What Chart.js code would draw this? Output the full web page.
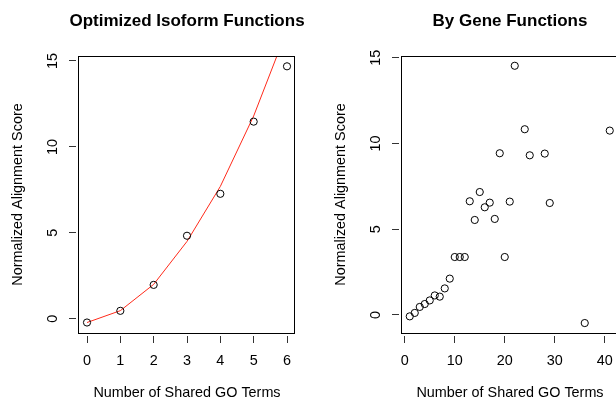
<!DOCTYPE html>
<html>
<head>
<meta charset="utf-8">
<script src="https://cdn.jsdelivr.net/npm/chart.js@4/dist/chart.umd.min.js"></script>
<style>
  html, body { margin: 0; padding: 0; background: #fff; overflow: hidden; }
  #wrap { position: relative; width: 616px; height: 402px; overflow: hidden; }
  canvas { position: absolute; top: 0; }
  #isoformChart { left: 0; }
  #geneChart { left: 323px; }
</style>
</head>
<body>
<div id="wrap">
  <canvas id="isoformChart" width="374" height="402"></canvas>
  <canvas id="geneChart" width="374" height="402"></canvas>
</div>
<script>
// Optimized isoform functions (left panel)
const isoformTerms = [0, 1, 2, 3, 4, 5, 6];
const isoformScores = [-0.22, 0.46, 1.97, 4.83, 7.27, 11.47, 14.69];
const isoformFit = [-0.22, 0.47, 2.0, 4.5, 7.7, 11.8, 16.8];
const isoformXTicks = [0, 1, 2, 3, 4, 5, 6];

// By gene functions (right panel)
const geneTerms = [1, 2, 3, 4, 5, 6, 7, 8, 9, 10, 11, 12, 13, 14, 15, 16, 17, 18, 19, 20, 21, 22, 24, 25, 28, 29, 36, 41];
const geneScores = [-0.08, 0.12, 0.47, 0.64, 0.85, 1.14, 1.07, 1.55, 2.12, 3.38, 3.38, 3.38, 6.63, 5.54, 7.17, 6.28, 6.55, 5.6, 9.43, 3.38, 6.61, 14.53, 10.83, 9.31, 9.41, 6.53, -0.47, 10.75];
const geneXTicks = [0, 10, 20, 30, 40];

const scoreTicks = [0, 5, 10, 15];

Chart.defaults.font.family = "'Liberation Sans', Arial, Helvetica, sans-serif";
Chart.defaults.font.size = 14.4;
Chart.defaults.color = '#000';

// R style box round the plot region
const boxPlugin = {
    id: 'rBox',
    afterDatasetsDraw(chart) {
        const { ctx, chartArea } = chart;
        const l = Math.round(chartArea.left) - 0.5;
        const t = Math.round(chartArea.top) + 0.5;
        const r = Math.round(chartArea.right) - 0.5;
        const b = Math.round(chartArea.bottom) + 0.5;
        ctx.save();
        ctx.strokeStyle = '#000';
        ctx.lineWidth = 1;
        ctx.strokeRect(l, t, r - l, b - t);
        ctx.restore();
    }
};

function toPoints(xs, ys) {
    return xs.map((x, i) => ({ x: x, y: ys[i] }));
}

function renderPanel(canvasId, cfg) {
    const ctx = document.getElementById(canvasId).getContext('2d');
    const datasets = [{
        data: toPoints(cfg.xs, cfg.ys),
        xAxisID: 'x',
        yAxisID: 'y',
        showLine: false,
        pointRadius: 3.6,
        pointHoverRadius: 3.6,
        pointBorderWidth: 1,
        pointBorderColor: '#000',
        pointBackgroundColor: 'rgba(0,0,0,0)'
    }];
    if (cfg.fit) {
        datasets.push({
            data: toPoints(cfg.xs, cfg.fit),
            xAxisID: 'x',
            yAxisID: 'y',
            showLine: true,
            borderColor: '#ff2a1a',
            borderWidth: 1,
            pointRadius: 0,
            tension: 0
        });
    }

    return new Chart(ctx, {
        type: 'scatter',
        data: { datasets: datasets },
        options: {
            responsive: false,
            animation: false,
            layout: { padding: 0 },
            plugins: {
                legend: { display: false },
                tooltip: { enabled: false },
                // canvas is symmetric round the plot box, so the title centres over it
                title: {
                    display: true,
                    text: cfg.title,
                    color: '#000',
                    font: { size: 17, weight: 'bold' },
                    padding: { top: 10.8, bottom: 24.8 }
                }
            },
            scales: {
                x: {
                    type: 'linear',
                    position: 'bottom',
                    min: cfg.xMin,
                    max: cfg.xMax,
                    afterBuildTicks: s => { s.ticks = cfg.xTicks.map(v => ({ value: v })); },
                    afterFit: s => { s.height = 69; },
                    border: { display: false },
                    grid: {
                        drawOnChartArea: false,
                        tickLength: 10,
                        tickColor: '#333',
                        tickBorderDash: [7, 3],
                        tickBorderDashOffset: 7
                    },
                    ticks: { padding: 9, maxRotation: 0, autoSkip: false },
                    title: { display: true, text: 'Number of Shared GO Terms', padding: { top: 0, bottom: 0 } }
                },
                y: {
                    type: 'linear',
                    position: 'left',
                    min: cfg.yMin,
                    max: cfg.yMax,
                    afterBuildTicks: s => { s.ticks = scoreTicks.map(v => ({ value: v })); },
                    afterFit: s => { s.width = 79; },
                    border: { display: false },
                    grid: {
                        drawOnChartArea: false,
                        tickLength: 10,
                        tickColor: '#333',
                        tickBorderDash: [7, 3],
                        tickBorderDashOffset: 0
                    },
                    ticks: { padding: 8, minRotation: 90, maxRotation: 90, crossAlign: 'center', autoSkip: false },
                    title: { display: true, text: 'Normalized Alignment Score', padding: { top: 9.4, bottom: 0 } }
                },
                // empty spacer on the right, same width as the left axis
                spacer: {
                    axis: 'y',
                    type: 'linear',
                    position: 'right',
                    afterFit: s => { s.width = 79; },
                    border: { display: false },
                    grid: { display: false },
                    ticks: { display: false }
                }
            }
        },
        plugins: [boxPlugin]
    });
}

renderPanel('isoformChart', {
    title: 'Optimized Isoform Functions',
    xs: isoformTerms,
    ys: isoformScores,
    fit: isoformFit,
    xTicks: isoformXTicks,
    xMin: -0.24,
    xMax: 6.24,
    yMin: -0.83,
    yMax: 15.29
});

renderPanel('geneChart', {
    title: 'By Gene Functions',
    xs: geneTerms,
    ys: geneScores,
    xTicks: geneXTicks,
    xMin: -0.55,
    xMax: 42.65,
    yMin: -1.05,
    yMax: 15.1
});
</script>
</body>
</html>
